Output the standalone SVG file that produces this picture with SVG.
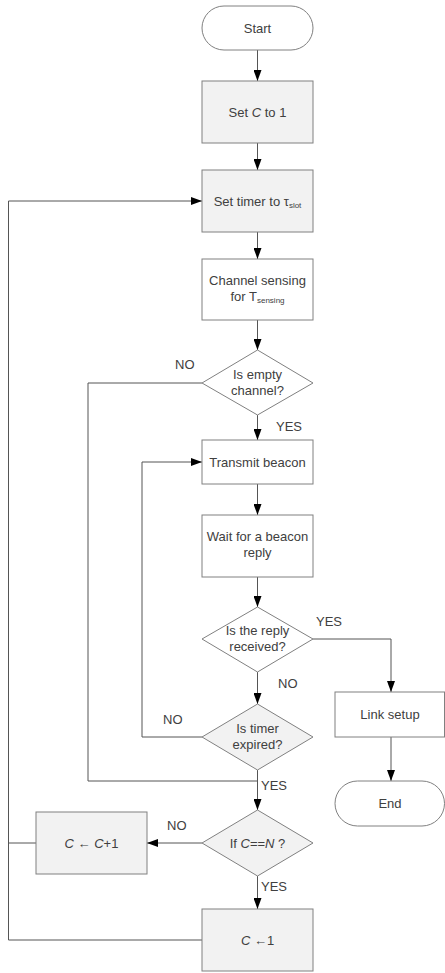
<svg xmlns="http://www.w3.org/2000/svg" width="445" height="973" viewBox="0 0 445 973">
<defs>
<marker id="ah" viewBox="0 0 8 11" refX="8" refY="5.5" markerWidth="11" markerHeight="8" markerUnits="userSpaceOnUse" orient="auto">
<path d="M0,0 L11,4 L0,8 Z" fill="#000" transform="scale(0.727,1.375)"/>
</marker>
<marker id="ah2" viewBox="0 0 11 8" refX="11" refY="4" markerWidth="11" markerHeight="8" markerUnits="userSpaceOnUse" orient="auto">
<path d="M0,0 L11,4 L0,8 Z" fill="#000"/>
</marker>
<style>
.n{stroke:#808080;stroke-width:1;fill:#fff}
.g{stroke:#808080;stroke-width:1;fill:#f2f2f2}
.t{font-family:"Liberation Sans",Arial,sans-serif;font-size:13px;fill:#404040;text-anchor:middle}
.l{font-family:"Liberation Sans",Arial,sans-serif;font-size:13px;fill:#404040}
.c{fill:none;stroke:#555;stroke-width:1}
.s{font-size:8px}
</style>
</defs>
<rect width="445" height="973" fill="#fff"/>
<g id="connectors">
<path class="c" d="M257.5,50 V81" marker-end="url(#ah2)"/>
<path class="c" d="M257.5,143 V170" marker-end="url(#ah2)"/>
<path class="c" d="M257.5,232 V259" marker-end="url(#ah2)"/>
<path class="c" d="M257.5,320 V350" marker-end="url(#ah2)"/>
<path class="c" d="M257.5,415 V440" marker-end="url(#ah2)"/>
<path class="c" d="M257.5,484 V515" marker-end="url(#ah2)"/>
<path class="c" d="M257.5,577 V607" marker-end="url(#ah2)"/>
<path class="c" d="M257.5,672 V704" marker-end="url(#ah2)"/>
<path class="c" d="M313,639 H391 V692" marker-end="url(#ah2)"/>
<path class="c" d="M391,737 V781" marker-end="url(#ah2)"/>
<path class="c" d="M202,737 H142 V462 H202" marker-end="url(#ah2)"/>
<path class="c" d="M202,383 H88 V781 H257.5"/>
<path class="c" d="M257.5,770 V810" marker-end="url(#ah2)"/>
<path class="c" d="M202,843 H147" marker-end="url(#ah2)"/>
<path class="c" d="M257.5,876 V909" marker-end="url(#ah2)"/>
<path class="c" d="M36,843 H8.5"/>
<path class="c" d="M202,940 H8.5 V201 H202" marker-end="url(#ah2)"/>
</g>
<g id="start"><rect class="n" x="202" y="6" width="111" height="44" rx="22"/><text class="t" x="257.5" y="32.5">Start</text></g>
<g id="setC"><rect class="g" x="202" y="81" width="111" height="62"/><text class="t" x="257.5" y="116.5">Set <tspan font-style="italic">C</tspan> to 1</text></g>
<g id="setTimer"><rect class="g" x="202" y="170" width="111" height="62"/><text class="t" x="257.5" y="205.5">Set timer to τ<tspan class="s" dy="2">slot</tspan></text></g>
<g id="sensing"><rect class="n" x="202" y="259" width="111" height="61"/><text class="t" x="257.5" y="285">Channel sensing</text><text class="t" x="257.5" y="301">for T<tspan class="s" dy="2">sensing</tspan></text></g>
<g id="empty"><polygon class="n" points="257.5,350 313,383 257.5,415 202,383"/><text class="t" x="257.5" y="379">Is empty</text><text class="t" x="257.5" y="395">channel?</text></g>
<g id="transmit"><rect class="n" x="202" y="440" width="111" height="44"/><text class="t" x="257.5" y="466.5">Transmit beacon</text></g>
<g id="wait"><rect class="n" x="202" y="515" width="111" height="62"/><text class="t" x="257.5" y="541">Wait for a beacon</text><text class="t" x="257.5" y="557">reply</text></g>
<g id="reply"><polygon class="n" points="257.5,607 313,639 257.5,672 202,639"/><text class="t" x="257.5" y="635">Is the reply</text><text class="t" x="257.5" y="651">received?</text></g>
<g id="link"><rect class="n" x="335" y="692" width="109.5" height="45"/><text class="t" x="390" y="719">Link setup</text></g>
<g id="end"><rect class="n" x="335" y="781" width="109.5" height="45" rx="22.5"/><text class="t" x="390" y="807.5">End</text></g>
<g id="expired"><polygon class="g" points="257.5,704 313,737 257.5,770 202,737"/><text class="t" x="257.5" y="733">Is timer</text><text class="t" x="257.5" y="749">expired?</text></g>
<g id="ifCN"><polygon class="g" points="257.5,810 313,843 257.5,876 202,843"/><text class="t" x="257.5" y="847.5">If <tspan font-style="italic">C</tspan>==<tspan font-style="italic">N</tspan> ?</text></g>
<g id="inc"><rect class="g" x="36" y="812" width="111" height="62"/><text class="t" x="91.5" y="847.5"><tspan font-style="italic">C</tspan> ← <tspan font-style="italic">C</tspan>+1</text></g>
<g id="reset"><rect class="g" x="202" y="909" width="111" height="62"/><text class="t" x="257.5" y="944.5"><tspan font-style="italic">C</tspan> ←1</text></g>
<g id="labels">
<text class="l" x="175" y="369">NO</text>
<text class="l" x="276" y="431">YES</text>
<text class="l" x="316" y="626">YES</text>
<text class="l" x="278" y="688">NO</text>
<text class="l" x="163" y="724">NO</text>
<text class="l" x="261" y="790">YES</text>
<text class="l" x="167" y="830">NO</text>
<text class="l" x="261" y="891">YES</text>
</g>
</svg>
